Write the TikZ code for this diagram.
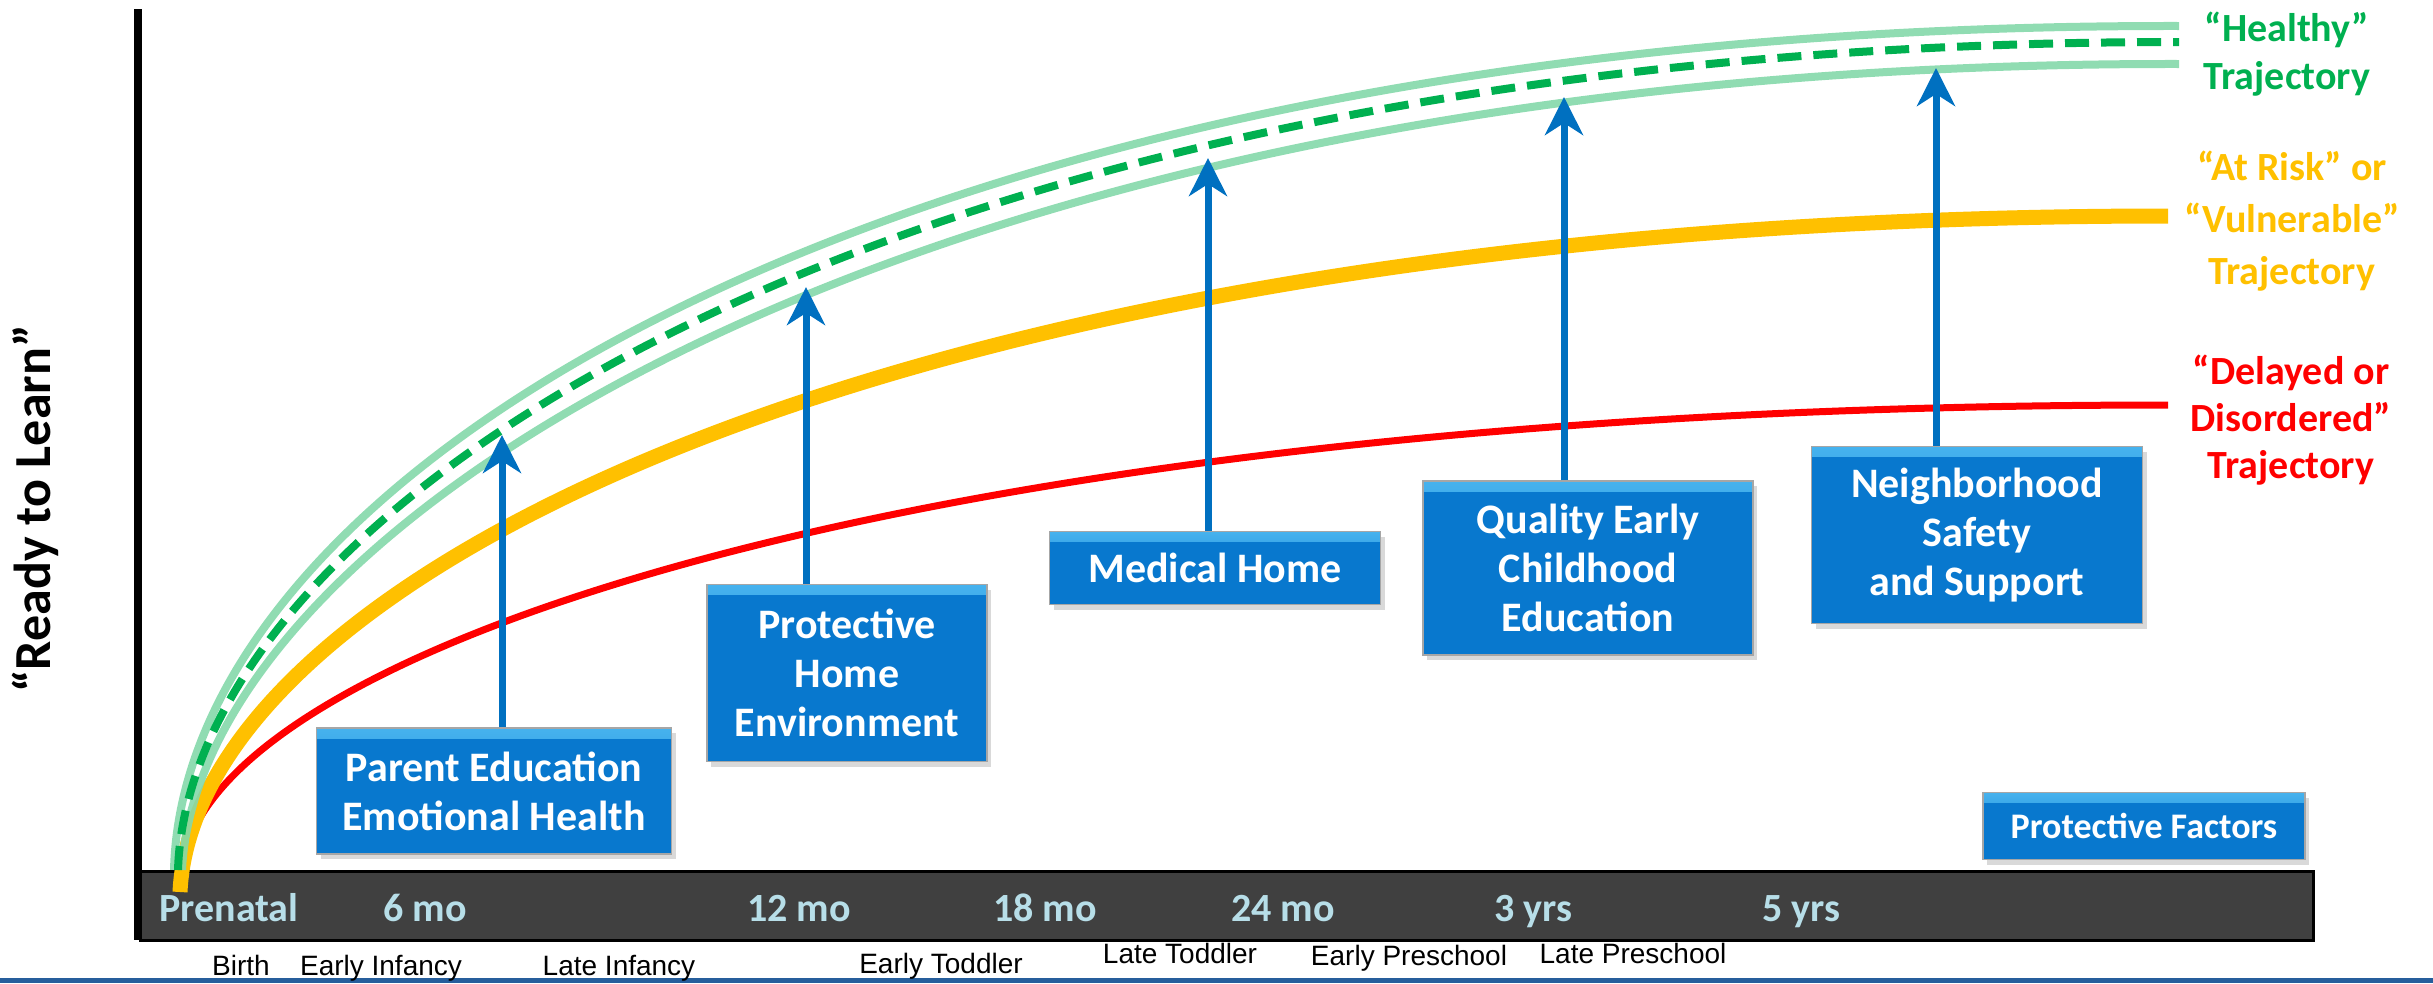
\documentclass[tikz,border=0pt]{standalone}
\usepackage{fontspec}
\setmainfont{Carlito}
\newfontfamily\arialfont{Liberation Sans}
\usetikzlibrary{arrows.meta,shadows}

\definecolor{boxblue}{RGB}{8,120,206}
\definecolor{bevel}{RGB}{70,178,238}
\definecolor{arrowblue}{RGB}{0,112,192}
\definecolor{healthy}{RGB}{0,176,80}
\definecolor{healthyband}{RGB}{132,216,170}
\definecolor{atrisk}{RGB}{255,192,0}
\definecolor{delayed}{RGB}{255,0,0}
\definecolor{bargray}{RGB}{64,64,64}
\definecolor{barlabel}{RGB}{183,222,232}
\definecolor{rulerblue}{RGB}{38,94,156}

\tikzset{
  factor/.style={fill=boxblue, draw=gray!70, line width=1.5pt, text=white,
    align=center, inner sep=0pt, font=\bfseries\fontsize{42}{49}\selectfont,
    drop shadow={shadow xshift=4pt, shadow yshift=-5pt, opacity=.3},
    path picture={\shade[top color=bevel, bottom color=boxblue]
      (path picture bounding box.north west) rectangle
      ([yshift=-10pt]path picture bounding box.north east);}},
  lift/.style={draw=arrowblue, line width=7pt,
    -{Stealth[length=38pt, width=38pt, inset=12pt]}},
  age/.style={text=barlabel, font=\bfseries\fontsize{40}{48}\selectfont, anchor=base},
  stage/.style={font=\arialfont\fontsize{28}{34}\selectfont, anchor=base},
  trajlabel/.style={align=center, font=\bfseries\fontsize{40}{#1}\selectfont}
}

\begin{document}
\begin{tikzpicture}[x=1pt, y=-1pt]
  \useasboundingbox (0,0) rectangle (2433,983);
  % axis, time bar
  \draw[line width=8pt] (138,9) -- (138,940);
  \draw[fill=bargray, line width=3pt] (140,871) rectangle (2313,940);
  \fill[rulerblue] (0,978) rectangle (2433,983);

  % trajectories
  \draw[delayed, line width=7pt] (186,850) .. controls (245,640) and (950,405) .. (2168,405);
  \draw[atrisk, line width=15pt] (180,892) .. controls (195,580) and (900,216) .. (2168,216);
  \draw[healthyband, opacity=.9, line width=8pt] (174,870) .. controls (184,470) and (900,24) .. (2179,26);
  \draw[healthyband, opacity=.9, line width=8pt] (182,870) .. controls (198,530) and (900,62) .. (2179,64);
  \draw[healthy, line width=8pt, dash pattern=on 24pt off 12pt] (178,870) .. controls (190,500) and (900,42) .. (2179,42);

  \node[trajlabel=48, text=healthy] (healthylbl) at (2287,54) {“Healthy”\\Trajectory};
  \node[trajlabel=52, text=atrisk] (atrisklbl) at (2292,221) {“At Risk” or\\“Vulnerable”\\Trajectory};
  \node[trajlabel=47, text=delayed] (delayedlbl) at (2291,420) {“Delayed or\\Disordered”\\Trajectory};

  % protective factors
  \node[factor, minimum width=355pt, minimum height=126pt] (parent) at (494,791) {Parent Education\\Emotional Health};
  \node[factor, minimum width=280pt, minimum height=177pt] (home) at (847,673) {Protective\\Home\\Environment};
  \node[factor, minimum width=331pt, minimum height=73pt] (medical) at (1215,568) {Medical Home};
  \node[factor, minimum width=330pt, minimum height=174pt] (preschool) at (1588,568) {Quality Early\\Childhood\\Education};
  \node[factor, minimum width=331pt, minimum height=177pt] (safety) at (1977,535) {Neighborhood\\Safety\\and Support};
  \node[factor, minimum width=322pt, minimum height=67pt, font=\bfseries\fontsize{36}{42}\selectfont] (legend) at (2144,826) {Protective Factors};

  \coordinate (lift1) at (502,435);
  \coordinate (lift2) at (806,287);
  \coordinate (lift3) at (1208,158);
  \coordinate (lift4) at (1564,97);
  \coordinate (lift5) at (1936,68);
  \draw[lift] (parent.north -| lift1) -- (lift1);
  \draw[lift] (home.north -| lift2) -- (lift2);
  \draw[lift] (medical.north -| lift3) -- (lift3);
  \draw[lift] (preschool.north -| lift4) -- (lift4);
  \draw[lift] (safety.north -| lift5) -- (lift5);

  % ages and stages
  \foreach \x/\lbl in {229/Prenatal, 425/6 mo, 799/12 mo, 1045/18 mo, 1283/24 mo, 1533/3 yrs, 1801/5 yrs}
    \node[age] (age-\x) at (\x,921) {\lbl};
  \foreach \x/\y/\lbl in {241/975/Birth, 381/975/Early Infancy, 619/975/Late Infancy,
      941/973/Early Toddler, 1180/963/Late Toddler, 1409/965/Early Preschool, 1633/963/Late Preschool}
    \node[stage] (stage-\x) at (\x,\y) {\lbl};

  \node[rotate=90, anchor=base, font=\bfseries\fontsize{52}{60}\selectfont] (ylabel) at (50,509) {“Ready to Learn”};
\end{tikzpicture}
\end{document}
